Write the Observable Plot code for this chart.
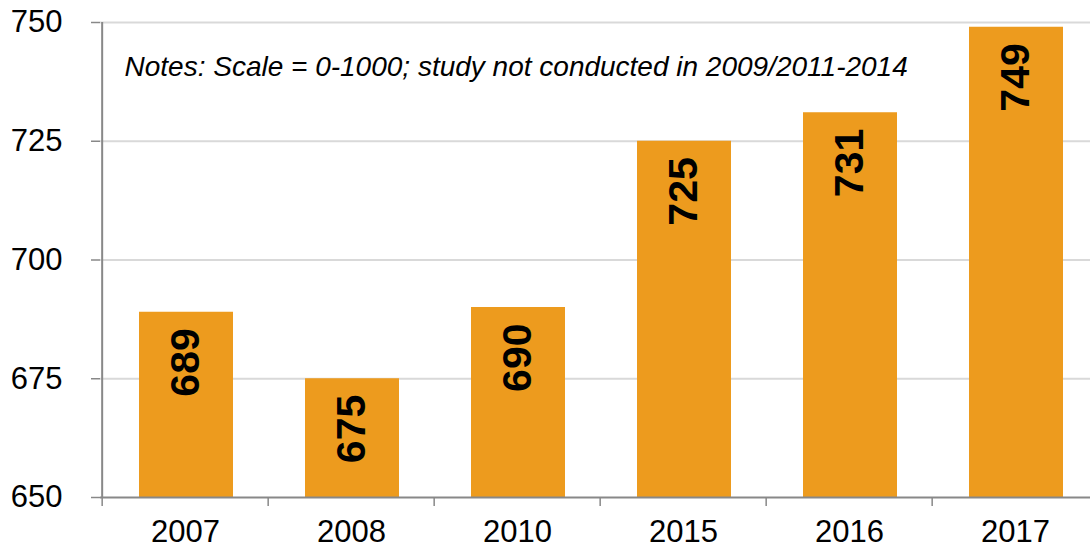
<!DOCTYPE html>
<html>
<head>
<meta charset="utf-8">
<script src="https://cdn.jsdelivr.net/npm/d3@7"></script>
<script src="https://cdn.jsdelivr.net/npm/@observablehq/plot@0.6"></script>
<style>
  html, body { margin: 0; padding: 0; background: #fff; overflow: hidden; }
  #chart svg { display: block; }
  g[aria-label^="y-axis"] line, g[aria-label^="y-axis"] path { stroke: #888; stroke-width: 1.5; }
</style>
</head>
<body>
<div id="chart"></div>
<script>
// ---- data ----
const years = ["2007", "2008", "2010", "2015", "2016", "2017"];
const scores = [689, 675, 690, 725, 731, 749];
const yTicks = [650, 675, 700, 725, 750];
const notes = "Notes: Scale = 0-1000; study not conducted in 2009/2011-2014";

const data = years.map((year, i) => ({year, score: scores[i]}));

// ---- layout ----
const W = 1090, H = 550;
const mL = 100, mR = -10, mT = 22, mB = 53;
const yMin = yTicks[0], yMax = yTicks[yTicks.length - 1];
const bw = (W - mL - mR) / years.length;           // band width in px
const pxPerUnit = (H - mT - mB) / (yMax - yMin);
const tickLen = 9;
const axisGray = "#888888";
const barColor = "#ED9B1E";

const chart = Plot.plot({
  width: W,
  height: H,
  marginLeft: mL,
  marginRight: mR,
  marginTop: mT,
  marginBottom: mB,
  style: {fontFamily: "'Liberation Sans', Arial, sans-serif", fontSize: "31px", color: "black", background: "white"},
  x: {domain: years, padding: 0, tickSize: 0, tickPadding: 22, label: null},
  y: {domain: [yMin, yMax], ticks: yTicks, tickSize: tickLen, tickPadding: 29, label: null},
  marks: [
    // gridlines
    Plot.ruleY(yTicks.filter(t => t > yMin), {y: d => d, stroke: "#d9d9d9", strokeWidth: 2}),
    // bars
    Plot.barY(data, {x: "year", y1: yMin, y2: "score", fill: barColor, insetLeft: 37, insetRight: 35}),
    // x axis line
    Plot.ruleY([yMin], {y: d => d, stroke: axisGray, strokeWidth: 2}),
    // y axis line
    Plot.ruleX([years[0]], {x: d => d, y1: yMin, y2: yMax, dx: -bw / 2, stroke: axisGray, strokeWidth: 2}),
    // x ticks at category boundaries
    Plot.ruleX(years, {x: d => d, y1: yMin, y2: yMin - tickLen / pxPerUnit, dx: -bw / 2, stroke: axisGray, strokeWidth: 1.5}),
    // value labels
    Plot.text(data, {
      x: "year", y: "score", text: d => String(d.score),
      rotate: -90, textAnchor: "end", lineAnchor: "middle",
      dy: 16, fontWeight: "bold", fontSize: 41, fill: "black"
    }),
    // notes
    Plot.text([notes], {
      frameAnchor: "top-left", text: d => d, textAnchor: "start", lineAnchor: "top",
      dx: 24, dy: 34, fontStyle: "italic", fontSize: 28, fill: "black"
    })
  ]
});
document.getElementById("chart").appendChild(chart);
</script>
</body>
</html>
